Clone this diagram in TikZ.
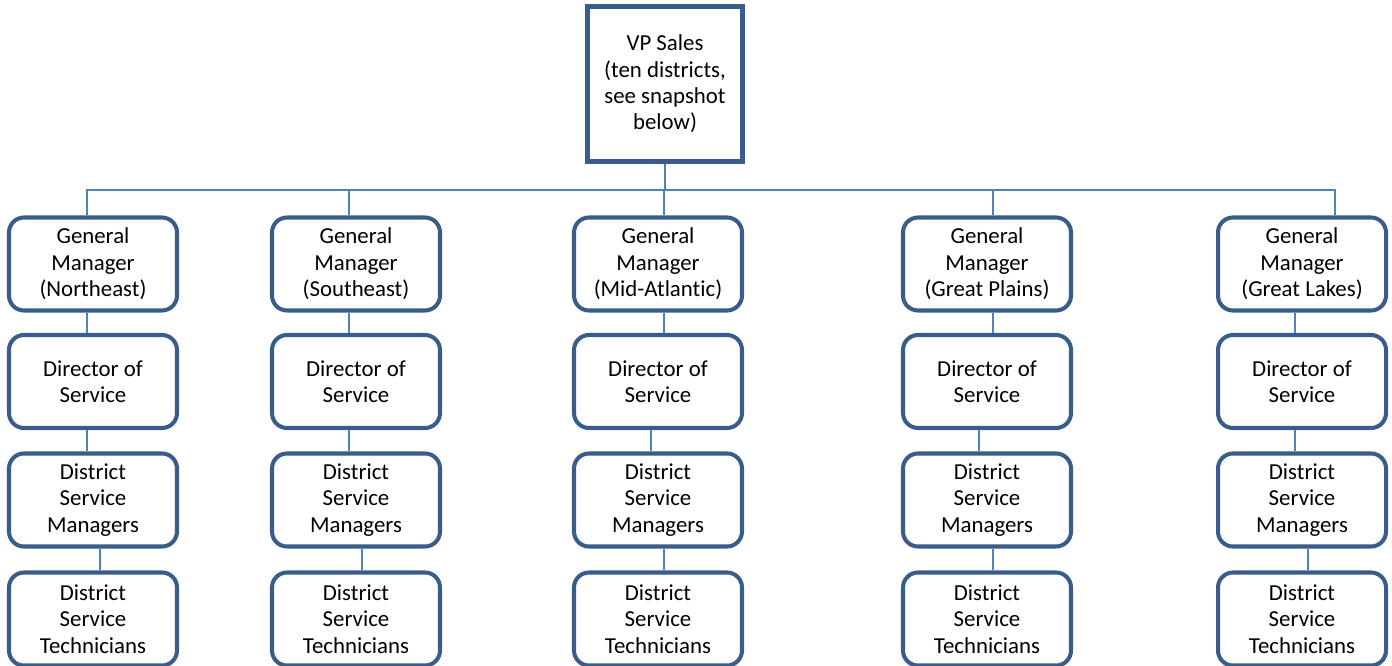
\documentclass[tikz,border=0pt]{standalone}
\usepackage{fontspec}
\setmainfont{Carlito}[Ligatures=NoCommon]
\definecolor{bcol}{RGB}{56,93,138}
\definecolor{lcol}{RGB}{79,129,189}
\tikzstyle{post}=[draw=bcol, line width=2.3pt, rounded corners=0.3cm, fill=white, minimum width=3.36cm, minimum height=1.86cm, align=center, inner sep=1pt, font=\fontsize{13}{15}\selectfont]
\tikzstyle{top}=[post, rounded corners=0pt, minimum width=3.1cm, minimum height=3.1cm]
\tikzstyle{link}=[line width=0.85pt, lcol]

\begin{document}
\begin{tikzpicture}
	\useasboundingbox (0,0) rectangle (27.84,13.30);

	\node[top] (vp) at (13.30, 11.62) {VP Sales\\(ten districts,\\see snapshot\\below)};
	\coordinate (bus) at (13.28, 9.50);

	% General managers
	\node[post] (g1) at (1.86, 8.02) {General\\Manager\\(Northeast)};
	\node[post] (g2) at (7.12, 8.02) {General\\Manager\\(Southeast)};
	\node[post] (g3) at (13.16, 8.02) {General\\Manager\\(Mid-Atlantic)};
	\node[post] (g4) at (19.74, 8.02) {General\\Manager\\(Great Plains)};
	\node[post] (g5) at (26.04, 8.02) {General\\Manager\\(Great Lakes)};
	% Directors
	\node[post] (d1) at (1.86, 5.67) {Director of\\Service};
	\node[post] (d2) at (7.12, 5.67) {Director of\\Service};
	\node[post] (d3) at (13.16, 5.67) {Director of\\Service};
	\node[post] (d4) at (19.74, 5.67) {Director of\\Service};
	\node[post] (d5) at (26.04, 5.67) {Director of\\Service};
	% Managers
	\node[post] (m1) at (1.86, 3.30) {District\\Service\\Managers};
	\node[post] (m2) at (7.12, 3.30) {District\\Service\\Managers};
	\node[post] (m3) at (13.16, 3.30) {District\\Service\\Managers};
	\node[post] (m4) at (19.74, 3.30) {District\\Service\\Managers};
	\node[post] (m5) at (26.04, 3.30) {District\\Service\\Managers};
	% Technicians
	\node[post] (t1) at (1.86, 0.92) {District\\Service\\Technicians};
	\node[post] (t2) at (7.12, 0.92) {District\\Service\\Technicians};
	\node[post] (t3) at (13.16, 0.92) {District\\Service\\Technicians};
	\node[post] (t4) at (19.74, 0.92) {District\\Service\\Technicians};
	\node[post] (t5) at (26.04, 0.92) {District\\Service\\Technicians};

	% Bus
	\draw[link] (vp.south) -- (vp.south |- bus);
	\draw[link] ([xshift=-.12cm]g1.north) |- (bus);
	\draw[link] ([xshift=-.14cm]g2.north) |- (bus);
	\draw[link] ([xshift=.12cm]g3.north) |- (bus);
	\draw[link] ([xshift=.12cm]g4.north) |- (bus);
	\draw[link] ([xshift=.66cm]g5.north) |- (bus);
	% Columns
	\draw[link] ([xshift=-.12cm]g1.south)--([xshift=-.12cm]d1.north) ([xshift=-.12cm]d1.south)--([xshift=-.12cm]m1.north) ([xshift=.14cm]m1.south)--([xshift=.14cm]t1.north);
	\draw[link] ([xshift=-.14cm]g2.south)--([xshift=-.14cm]d2.north) ([xshift=-.14cm]d2.south)--([xshift=-.14cm]m2.north) ([xshift=.12cm]m2.south)--([xshift=.12cm]t2.north);
	\draw[link] ([xshift=.12cm]g3.south)--([xshift=.12cm]d3.north) ([xshift=-.14cm]d3.south)--([xshift=-.14cm]m3.north) ([xshift=.12cm]m3.south)--([xshift=.12cm]t3.north);
	\draw[link] ([xshift=.12cm]g4.south)--([xshift=.12cm]d4.north) ([xshift=-.16cm]d4.south)--([xshift=-.16cm]m4.north) ([xshift=.12cm]m4.south)--([xshift=.12cm]t4.north);
	\draw[link] ([xshift=-.14cm]g5.south)--([xshift=-.14cm]d5.north) ([xshift=-.14cm]d5.south)--([xshift=-.14cm]m5.north) ([xshift=.12cm]m5.south)--([xshift=.12cm]t5.north);
\end{tikzpicture}
\end{document}
